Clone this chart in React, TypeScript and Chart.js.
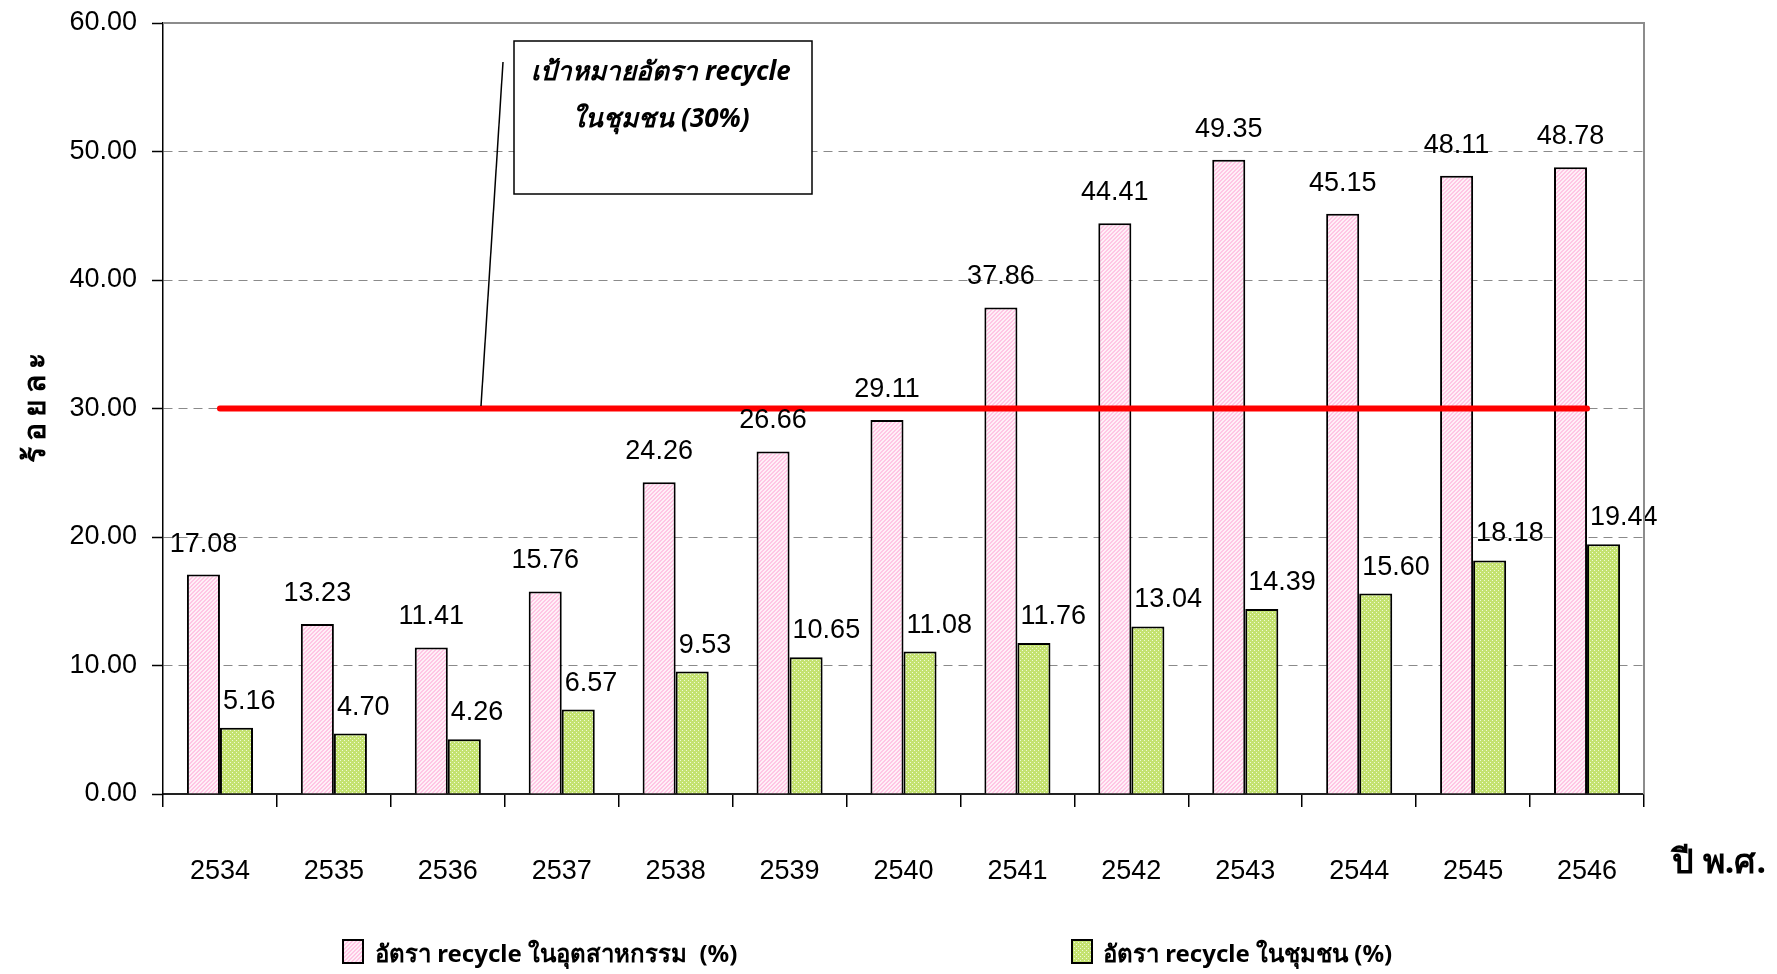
import React, { useEffect, useRef } from "react";
import { Chart, registerables } from "chart.js";

Chart.register(...registerables);

const years = ["2534", "2535", "2536", "2537", "2538", "2539", "2540", "2541", "2542", "2543", "2544", "2545", "2546"];
const industryRate = [17.08, 13.23, 11.41, 15.76, 24.26, 26.66, 29.11, 37.86, 44.41, 49.35, 45.15, 48.11, 48.78];
const communityRate = [5.16, 4.7, 4.26, 6.57, 9.53, 10.65, 11.08, 11.76, 13.04, 14.39, 15.6, 18.18, 19.44];
const targetRate = [30, 30, 30, 30, 30, 30, 30, 30, 30, 30, 30, 30, 30];

const industryLabel = "อัตรา recycle ในอุตสาหกรรม  (%)";
const communityLabel = "อัตรา recycle ในชุมชน (%)";
const targetLine1 = "เป้าหมายอัตรา recycle";
const targetLine2 = "ในชุมชน (30%)";
const yTitle = "ร้อยละ";
const xTitle = "ปี พ.ศ.";

const NUM_FONT = '"Liberation Sans", Arial, sans-serif';
const THAI_FONT = '"Noto Sans", "DejaVu Sans", "Liberation Sans", sans-serif';

function makeTile(size: number, fn: (x: number, y: number) => [number, number, number]) {
  const c = document.createElement("canvas");
  c.width = size;
  c.height = size;
  const g = c.getContext("2d")!;
  const img = g.createImageData(size, size);
  for (let y = 0; y < size; y++) {
    for (let x = 0; x < size; x++) {
      const [r, gg, b] = fn(x, y);
      const i = (y * size + x) * 4;
      img.data[i] = r;
      img.data[i + 1] = gg;
      img.data[i + 2] = b;
      img.data[i + 3] = 255;
    }
  }
  g.putImageData(img, 0, 0);
  return c;
}

function pinkPattern(ctx: CanvasRenderingContext2D) {
  const tile = makeTile(4, (x, y) => ((x + y) % 4 < 2 ? [255, 198, 228] : [255, 240, 247]));
  return ctx.createPattern(tile, "repeat")!;
}

function greenPattern(ctx: CanvasRenderingContext2D) {
  const tile = makeTile(4, (x, y) => ((x === 0 && y === 0) || (x === 2 && y === 2) ? [240, 250, 215] : [196, 226, 112]));
  return ctx.createPattern(tile, "repeat")!;
}

const valueLabels = {
  id: "valueLabels",
  afterDatasetsDraw(chart: any) {
    const ctx = chart.ctx as CanvasRenderingContext2D;
    ctx.save();
    ctx.font = `27px ${NUM_FONT}`;
    ctx.fillStyle = "#000";
    ctx.textBaseline = "alphabetic";
    [0, 1].forEach((di) => {
      const meta = chart.getDatasetMeta(di);
      meta.data.forEach((el: any, i: number) => {
        const v = chart.data.datasets[di].data[i] as number;
        const txt = v.toFixed(2);
        const p = el.getProps(["x", "y", "width"], true);
        if (di === 0) {
          ctx.textAlign = "center";
          ctx.fillText(txt, p.x, p.y - 23);
        } else {
          ctx.textAlign = "left";
          ctx.fillText(txt, p.x - p.width / 2 + 3, p.y - 19);
        }
      });
    });
    ctx.restore();
  },
};

const decorations = {
  id: "decorations",
  afterDraw(chart: any) {
    const ctx = chart.ctx as CanvasRenderingContext2D;
    const a = chart.chartArea;
    ctx.save();
    // top & right frame
    ctx.strokeStyle = "#8c8c8c";
    ctx.lineWidth = 2;
    ctx.beginPath();
    ctx.moveTo(a.left, a.top);
    ctx.lineTo(a.right, a.top);
    ctx.lineTo(a.right, a.bottom);
    ctx.stroke();

    // leader line
    ctx.strokeStyle = "#000";
    ctx.lineWidth = 1.5;
    ctx.beginPath();
    ctx.moveTo(503, 62);
    ctx.lineTo(481, 406);
    ctx.stroke();

    // callout box
    ctx.fillStyle = "#fff";
    ctx.fillRect(514, 41, 298, 153);
    ctx.strokeStyle = "#000";
    ctx.lineWidth = 1.5;
    ctx.strokeRect(514, 41, 298, 153);
    ctx.fillStyle = "#000";
    ctx.font = `italic bold 26px ${THAI_FONT}`;
    ctx.textAlign = "center";
    ctx.textBaseline = "alphabetic";
    ctx.fillText(targetLine1, 661, 80);
    ctx.fillText(targetLine2, 661, 127);

    // y title
    ctx.save();
    ctx.translate(36, 405);
    ctx.rotate(-Math.PI / 2);
    ctx.font = `bold 30px ${THAI_FONT}`;
    (ctx as any).letterSpacing = "6px";
    ctx.textAlign = "center";
    ctx.textBaseline = "middle";
    ctx.fillText(yTitle, 0, 0);
    ctx.restore();

    // x title
    ctx.font = `bold 34px ${THAI_FONT}`;
    ctx.textAlign = "left";
    ctx.textBaseline = "alphabetic";
    ctx.fillText(xTitle, 1672, 873);

    // legend
    const pats = [pinkPattern(ctx), greenPattern(ctx)];
    const items = [
      { x: 343, tx: 375, label: industryLabel },
      { x: 1072, tx: 1103, label: communityLabel },
    ];
    ctx.font = `bold 24px ${THAI_FONT}`;
    items.forEach((it, i) => {
      ctx.fillStyle = pats[i];
      ctx.fillRect(it.x, 940, 20, 23);
      ctx.strokeStyle = "#000";
      ctx.lineWidth = 2;
      ctx.strokeRect(it.x, 940, 20, 23);
      ctx.fillStyle = "#000";
      ctx.fillText(it.label, it.tx, 962);
    });
    ctx.restore();
  },
};

export default function App() {
  const ref = useRef<HTMLCanvasElement | null>(null);
  useEffect(() => {
    document.body.style.margin = "0";
    const canvas = ref.current!;
    const ctx = canvas.getContext("2d")!;
    const chart = new Chart(ctx, {
      type: "bar",
      data: {
        labels: years,
        datasets: [
          {
            type: "bar",
            label: industryLabel,
            data: industryRate,
            backgroundColor: pinkPattern(ctx),
            borderColor: "#000",
            borderWidth: 2,
            order: 2,
          } as any,
          {
            type: "bar",
            label: communityLabel,
            data: communityRate,
            backgroundColor: greenPattern(ctx),
            borderColor: "#000",
            borderWidth: 2,
            order: 2,
          } as any,
          {
            type: "line",
            label: "target",
            data: targetRate,
            borderColor: "#ff0000",
            borderWidth: 6,
            borderCapStyle: "round",
            pointRadius: 0,
            fill: false,
            order: 0,
          } as any,
        ],
      },
      options: {
        responsive: false,
        animation: false,
        devicePixelRatio: 1,
        layout: { padding: { top: 23, right: 133, left: 0, bottom: 0 } },
        datasets: { bar: { categoryPercentage: 0.58, barPercentage: 1 } },
        plugins: { legend: { display: false }, tooltip: { enabled: false }, title: { display: false } },
        scales: {
          x: {
            type: "category",
            offset: true,
            grid: { offset: true, drawOnChartArea: false, drawTicks: true, tickLength: 13, color: "#000", lineWidth: 1.5 },
            border: { display: true, color: "#222", width: 2 },
            ticks: { font: { family: NUM_FONT, size: 27 }, color: "#000", padding: 48, maxRotation: 0, autoSkip: false },
            afterFit: (s: any) => {
              s.height = 180;
              s.paddingLeft = 0;
              s.paddingRight = 0;
            },
          },
          y: {
            min: 0,
            max: 60,
            ticks: {
              stepSize: 10,
              font: { family: NUM_FONT, size: 27 },
              color: "#000",
              padding: 15,
              callback: (v: any) => Number(v).toFixed(2),
            },
            grid: { color: "#8a8a8a", lineWidth: 1, tickLength: 11, tickColor: "#000", tickWidth: 1.5 },
            border: { display: true, color: "#000", width: 1.5, dash: [9, 6] },
            afterFit: (s: any) => {
              s.width = 163;
              s.paddingTop = 0;
              s.paddingBottom = 0;
            },
          },
        },
      } as any,
      plugins: [valueLabels, decorations],
    });
    return () => chart.destroy();
  }, []);
  return (
    <div style={{ position: "absolute", left: 0, top: 0, width: 1777, height: 974, background: "#fff" }}>
      <canvas ref={ref} width={1777} height={974} style={{ width: 1777, height: 974 }} />
    </div>
  );
}
